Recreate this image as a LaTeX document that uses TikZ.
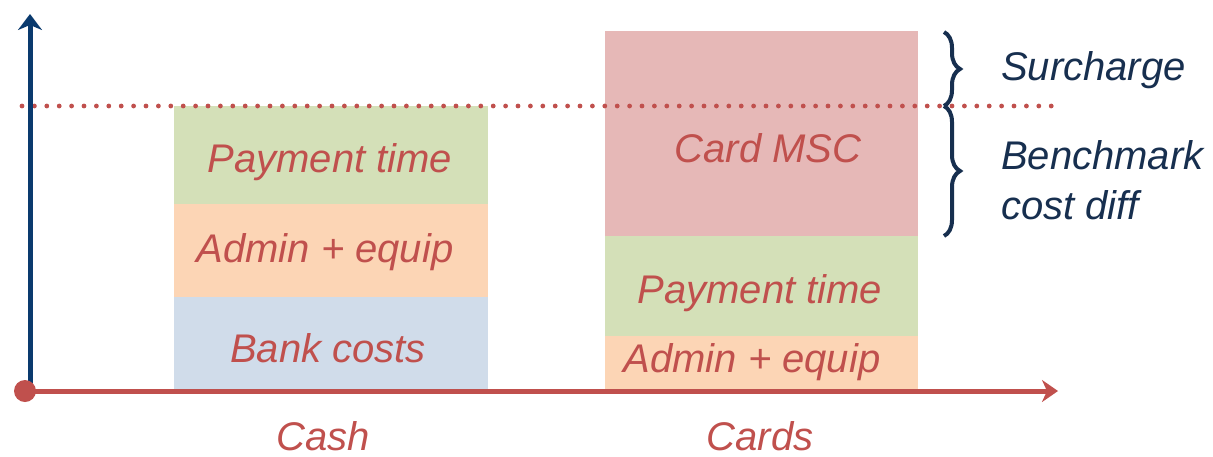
\documentclass[tikz,border=0pt]{standalone}
\usepackage{fontspec}
\setmainfont{Liberation Sans}
\usetikzlibrary{arrows.meta,positioning,decorations.pathreplacing}

\definecolor{costred}{HTML}{C0504D}
\definecolor{axisblue}{HTML}{0A3A6E}
\definecolor{bracenavy}{HTML}{172F4F}
\definecolor{timegreen}{HTML}{D4E0B8}
\definecolor{adminpeach}{HTML}{FCD5B5}
\definecolor{bankblue}{HTML}{D0DCEA}
\definecolor{mscpink}{HTML}{E6B8B7}

\tikzset{
	bar/.style={draw=none, inner sep=0pt, anchor=north west},
	cost/.style={text=costred, font=\fontsize{20}{24}\selectfont\itshape},
	note/.style={text=bracenavy, font=\fontsize{20}{24}\selectfont\itshape, anchor=west, align=left},
	curly/.style={draw=bracenavy, line width=2pt, decorate, decoration={brace, amplitude=8pt}}
}

\begin{document}
\begin{tikzpicture}[x=0.5pt,y=-0.5pt]
	\useasboundingbox (0,0) rectangle (1213,456);
	
	% bars
	\node[bar, fill=timegreen, minimum width=157pt, minimum height=49pt] (cashtime) at (174,106) {};
	\node[bar, fill=adminpeach, minimum width=157pt, minimum height=46.5pt] (cashadmin) at (174,204) {};
	\node[bar, fill=bankblue, minimum width=157pt, minimum height=46pt] (cashbank) at (174,297) {};
	\node[bar, fill=mscpink, minimum width=156.5pt, minimum height=102.5pt] (cardmsc) at (605,31) {};
	\node[bar, fill=timegreen, minimum width=156.5pt, minimum height=50pt] (cardtime) at (605,236) {};
	\node[bar, fill=adminpeach, minimum width=156.5pt, minimum height=28pt] (cardadmin) at (605,336) {};
	
	\node[cost] (l-cashtime) at (330,162) {Payment time};
	\node[cost] (l-cashadmin) at (325,252) {Admin + equip};
	\node[cost] (l-cashbank) at (328,348) {Bank costs};
	\node[cost] (l-cardmsc) at (768,148) {Card MSC};
	\node[cost] (l-cardtime) at (760,293) {Payment time};
	\node[cost] (l-cardadmin) at (752,362) {Admin + equip};
	
	% axes
	\coordinate (origin) at (25,391);
	\coordinate (xend) at (1058,391);
	\coordinate (ybot) at (30,386);
	\coordinate (yend) at (30,14);
	\coordinate (bstart) at (22,106);
	\coordinate (bend) at (1052,106);
	
	\draw[costred, line width=2.4pt, line cap=round, dash pattern=on 0pt off 6.2pt] (bstart)--(bend);
	\draw[axisblue, line width=2.5pt, -{Stealth[length=8pt,width=12pt,inset=2.5pt]}] (ybot)--(yend);
	\draw[costred, line width=2.5pt, -{Stealth[length=8pt,width=11pt,inset=2.5pt]}] (origin)--(xend);
	\fill[costred] (origin) circle (5.5pt);
	
	\node[cost] (cash) at (323,436) {Cash};
	\node[cost] (cards) at (760,436) {Cards};
	
	% braces
	\coordinate (b1) at (944,32);
	\coordinate (b2) at (944,106);
	\coordinate (b3) at (944,236);
	\draw[curly] (b1)--(b2);
	\draw[curly] (b2)--(b3);
	
	\node[note] (surcharge) at (994,70) {Surcharge};
	\node[note] (bench) at (994,180) {Benchmark\\[1pt]cost diff};
\end{tikzpicture}
\end{document}
